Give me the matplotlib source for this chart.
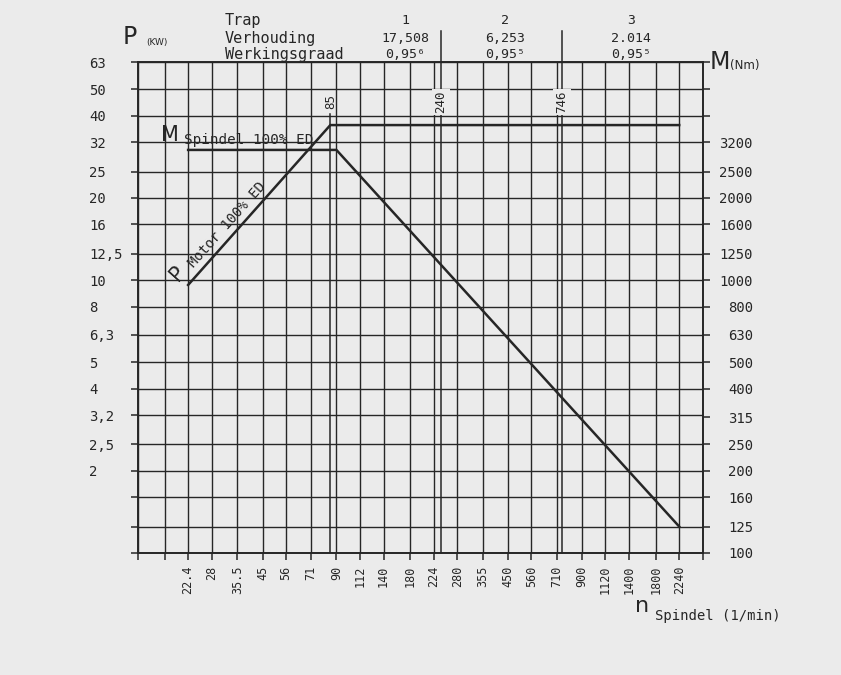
import math
import numpy as np
import matplotlib
matplotlib.use("Agg")
import matplotlib.pyplot as plt
from matplotlib.ticker import NullLocator

# --- data ---
n_grid = [14, 18, 22.4, 28, 35.5, 45, 56, 71, 90, 112, 140, 180, 224, 280,
          355, 450, 560, 710, 900, 1120, 1400, 1800, 2240, 2800]
n_labels = ["", "", "22.4", "28", "35.5", "45", "56", "71", "90", "112", "140",
            "180", "224", "280", "355", "450", "560", "710", "900", "1120",
            "1400", "1800", "2240", ""]

p_grid = [1, 1.25, 1.6, 2, 2.5, 3.2, 4, 5, 6.3, 8, 10, 12.5, 16, 20, 25, 32, 40, 50, 63]
p_labels = ["", "", "", "2", "2,5", "3,2", "4", "5", "6,3", "8", "10", "12,5",
            "16", "20", "25", "32", "40", "50", "63"]

m_grid = [100, 125, 160, 200, 250, 315, 400, 500, 630, 800, 1000, 1250, 1600,
          2000, 2500, 3200, 4000, 5000, 6300]
m_labels = ["100", "125", "160", "200", "250", "315", "400", "500", "630", "800",
            "1000", "1250", "1600", "2000", "2500", "3200", "", "", ""]

motor_n = [22.4, 85, 2240]      # 1/min
motor_p = [9.6, 37, 37]         # kW
spindle_n = [22.4, 90, 2240]    # 1/min
spindle_m = [3000, 3000, 125]   # Nm

shift_n = [85, 240, 746]        # marked speeds
gear_no = ["1", "2", "3"]
gear_ratio = ["17,508", "6,253", "2.014"]
gear_eff = ["0,95\u2076", "0,95\u2075", "0,95\u2075"]

BG = "#ebebeb"
INK = "#262626"
MONO = "DejaVu Sans Mono"

W, H = 841, 675
fig = plt.figure(figsize=(W / 100, H / 100), dpi=100, facecolor=BG)
L, R, T, B = 138, 703, 62, 553
ax = fig.add_axes([L / W, 1 - B / H, (R - L) / W, (B - T) / H], facecolor=BG)


def fx(px):
    return px / W


def fy(py):
    return 1 - py / H


ax.set_xscale("log")
ax.set_yscale("log")
ax.set_xlim(14, 2800)
ax.set_ylim(1, 63)
ax.set_xticks(n_grid)
ax.set_xticklabels(n_labels, rotation=90, fontfamily=MONO, fontsize=8.5, color=INK)
ax.set_yticks(p_grid)
ax.set_yticklabels(p_labels, fontfamily=MONO, fontsize=10, color=INK, ha="left")
ax.xaxis.set_minor_locator(NullLocator())
ax.yaxis.set_minor_locator(NullLocator())
ax.tick_params(axis="x", direction="out", length=5, width=1.1, color=INK, pad=4)
ax.tick_params(axis="y", direction="out", length=5, width=1.1, color=INK, pad=30)
ax.grid(True, color=INK, lw=1.0)
for s in ax.spines.values():
    s.set_color(INK)
    s.set_linewidth(1.4)

ax2 = ax.twinx()
ax2.set_yscale("log")
ax2.set_ylim(100, 6300)
ax2.set_yticks(m_grid)
ax2.set_yticklabels(m_labels, fontfamily=MONO, fontsize=10, color=INK, ha="right")
ax2.yaxis.set_minor_locator(NullLocator())
ax2.tick_params(axis="y", direction="out", length=5, width=1.1, color=INK, pad=31)
for s in ax2.spines.values():
    s.set_visible(False)

# curves
ax.plot(motor_n, motor_p, color=INK, lw=1.8, solid_joinstyle="miter", zorder=5)
ax2.plot(spindle_n, spindle_m, color=INK, lw=1.8, solid_joinstyle="miter", zorder=5)

# marked shift speeds
label_y = 45
ax.plot([shift_n[0], shift_n[0]], [1, 40.6], color=INK, lw=1.1, zorder=4)
ax.text(shift_n[0], label_y, "85", rotation=90, ha="center", va="center",
        fontfamily=MONO, fontsize=9, color=INK)
for n, lab in zip(shift_n[1:], ["240", "746"]):
    ax.axvline(n, ymin=0, ymax=1.063, color=INK, lw=1.1, clip_on=False, zorder=4)
    ax.text(n, label_y, lab, rotation=90, ha="center", va="center",
            fontfamily=MONO, fontsize=9, color=INK, zorder=6,
            bbox=dict(fc=BG, ec="none", pad=1.5))

# curve labels
p0 = ax.transData.transform((motor_n[0], motor_p[0]))
p1 = ax.transData.transform((motor_n[1], motor_p[1]))
ang = math.degrees(math.atan2(p1[1] - p0[1], p1[0] - p0[0]))

x_lab = 24.8
y_lab = 10 ** np.interp(np.log10(x_lab), np.log10(motor_n[:2]), np.log10(motor_p[:2]))
ax.annotate("Motor 100% ED", xy=(x_lab, y_lab), xytext=(-2, 2), textcoords="offset points",
            rotation=ang, rotation_mode="anchor", ha="left", va="bottom",
            fontfamily=MONO, fontsize=10, color=INK)
ax.text(20.4, 10.6, "P", rotation=ang, ha="center", va="center",
        fontfamily="DejaVu Sans", fontsize=15, color=INK)

ax2.annotate("Spindel 100% ED", xy=(21.6, spindle_m[0]), xytext=(0, 2),
             textcoords="offset points", ha="left", va="bottom",
             fontfamily=MONO, fontsize=10.3, color=INK)
ax.text(18.9, 34.0, "M", ha="center", va="center",
        fontfamily="DejaVu Sans", fontsize=15, color=INK)

# axis titles
fig.text(fx(130), fy(37), "P", ha="center", va="center", fontsize=17, color=INK)
fig.text(fx(146), fy(43), "(KW)", ha="left", va="center", fontsize=6.5, color=INK)
fig.text(fx(720), fy(62), "M", ha="center", va="center", fontsize=17, color=INK)
fig.text(fx(730), fy(66), "(Nm)", ha="left", va="center", fontsize=8.5, color=INK)
fig.text(fx(642), fy(606), "n", ha="center", va="center", fontsize=16, color=INK)
fig.text(fx(655), fy(616), "Spindel (1/min)", ha="left", va="center",
         fontfamily=MONO, fontsize=10, color=INK)

# gear table header
rows = [21, 38, 54]
for txt, yy in zip(["Trap", "Verhouding", "Werkingsgraad"], rows):
    fig.text(fx(225), fy(yy), txt, ha="left", va="center",
             fontfamily=MONO, fontsize=11, color=INK)
for cx, g, r, e in zip([405, 505, 631], gear_no, gear_ratio, gear_eff):
    for txt, yy in zip([g, r, e], rows):
        fig.text(fx(cx), fy(yy), txt, ha="center", va="center",
                 fontfamily=MONO, fontsize=9.5, color=INK)

fig.savefig("out.png", dpi=100, facecolor=BG)
